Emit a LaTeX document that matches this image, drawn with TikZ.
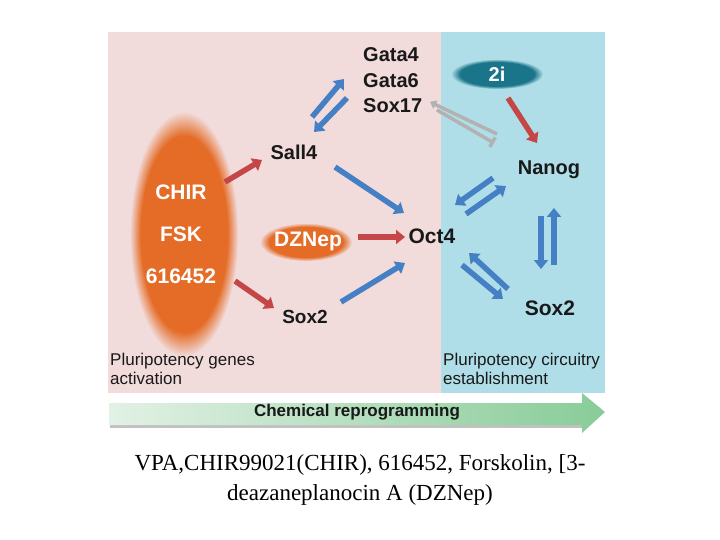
\documentclass[tikz,border=0pt]{standalone}
\usepackage{fontspec}
\setmainfont{Liberation Serif}
\newfontfamily\lsans{Liberation Sans}
\usetikzlibrary{arrows.meta,fadings,shapes.geometric}
\definecolor{pinkbg}{RGB}{242,219,219}
\definecolor{bluebg}{RGB}{176,222,232}
\definecolor{arrblue}{RGB}{70,128,196}
\definecolor{arrred}{RGB}{196,70,70}
\definecolor{arrgray}{RGB}{178,178,178}
\definecolor{blob}{RGB}{228,108,38}
\definecolor{teal2i}{RGB}{26,116,138}
\definecolor{greenL}{RGB}{226,241,229}
\definecolor{greenR}{RGB}{136,204,152}
\definecolor{txt}{RGB}{25,25,25}
\tikzset{
  gene/.style={font=\lsans\bfseries\fontsize{20}{22}\selectfont, text=txt, inner sep=0pt},
  drug/.style={font=\lsans\bfseries\fontsize{21}{23}\selectfont, text=white, inner sep=0pt},
  note/.style={font=\lsans\fontsize{17}{19}\selectfont, text=txt, inner sep=0pt, anchor=north west, align=left},
  ar/.style={line width=5.5pt, -{Triangle[length=9pt,width=14pt]}},
  blue arr/.style={ar, draw=arrblue},
  red arr/.style={ar, draw=arrred},
  gray arr/.style={line width=3.5pt, draw=arrgray},
}
\begin{document}
\begin{tikzpicture}[x=1pt,y=-1pt]
\useasboundingbox (0,0) rectangle (720,540);
\fill[white] (0,0) rectangle (720,540);
% panels
\fill[pinkbg] (108,32) rectangle (441,393);
\fill[bluebg] (441,32) rectangle (605,393);
% blobs
\fill[blob, path fading=circle with fuzzy edge 20 percent] (184,234) ellipse (54 and 122);
\fill[blob, path fading=circle with fuzzy edge 20 percent] (306,242) ellipse (46 and 19);
\fill[teal2i, path fading=circle with fuzzy edge 20 percent] (497,74) ellipse (46 and 15);
% nodes
\node[drug] (chir) at (181,192) {CHIR};
\node[drug] (fsk) at (181,234) {FSK};
\node[drug] (cpd) at (181,276) {616452};
\node[drug] (dznep) at (308,241) {DZNep};
\node[drug, font=\lsans\bfseries\fontsize{20}{22}\selectfont] (twoi) at (497,74) {2i};
\node[gene] (sall4) at (294,152) {Sall4};
\node[gene, font=\lsans\bfseries\fontsize{19}{21}\selectfont] (sox2a) at (305,317) {Sox2};
\node[gene, anchor=west] (gata4) at (363,55) {Gata4};
\node[gene, anchor=west] (gata6) at (363,81) {Gata6};
\node[gene, anchor=west] (sox17) at (363,106) {Sox17};
\node[gene] (nanog) at (549,170) {Nanog};
\node[gene, font=\lsans\bfseries\fontsize{21}{23}\selectfont] (oct4) at (432,236) {Oct4};
\node[gene, font=\lsans\bfseries\fontsize{21}{23}\selectfont] (sox2b) at (550,308) {Sox2};
\node[note] (lnote) at (110,353) {Pluripotency genes\\activation};
\node[note] (rnote) at (443,353) {Pluripotency circuitry\\establishment};
% arrow endpoints
\coordinate (r1a) at (225,182); \coordinate (r1b) at (262,160);
\coordinate (r2a) at (235,281); \coordinate (r2b) at (274,308);
\coordinate (r3a) at (358,237); \coordinate (r3b) at (405,237);
\coordinate (r4a) at (508,98);  \coordinate (r4b) at (537,143);
\coordinate (b1a) at (335,167); \coordinate (b1b) at (404,213);
\coordinate (b2a) at (341,302); \coordinate (b2b) at (405,263);
\coordinate (b3a) at (312,117); \coordinate (b3b) at (344,79);
\coordinate (b4a) at (347,98);  \coordinate (b4b) at (314,132);
\coordinate (b5a) at (493,178); \coordinate (b5b) at (455,205);
\coordinate (b6a) at (466,214); \coordinate (b6b) at (506,186);
\coordinate (b7a) at (541,216); \coordinate (b7b) at (541,269);
\coordinate (b8a) at (554,265); \coordinate (b8b) at (554,208);
\coordinate (b9a) at (508,289); \coordinate (b9b) at (469,253);
\coordinate (b10a) at (462,265); \coordinate (b10b) at (503,299);
\coordinate (g1a) at (497,134); \coordinate (g1b) at (430,102);
\coordinate (g2a) at (437,110); \coordinate (g2b) at (494,143);
% red arrows
\draw[red arr] (r1a) -- (r1b);
\draw[red arr] (r2a) -- (r2b);
\draw[red arr] (r3a) -- (r3b);
\draw[red arr] (r4a) -- (r4b);
% blue arrows
\draw[blue arr] (b1a) -- (b1b);
\draw[blue arr] (b2a) -- (b2b);
\draw[blue arr] (b3a) -- (b3b);
\draw[blue arr] (b4a) -- (b4b);
\draw[blue arr] (b5a) -- (b5b);
\draw[blue arr] (b6a) -- (b6b);
\draw[blue arr] (b7a) -- (b7b);
\draw[blue arr] (b8a) -- (b8b);
\draw[blue arr] (b9a) -- (b9b);
\draw[blue arr] (b10a) -- (b10b);
% gray
\draw[gray arr, -{Triangle[length=6pt,width=9pt]}] (g1a) -- (g1b);
\draw[gray arr, -{Bar[width=11pt]}] (g2a) -- (g2b);
% green process arrow
\fill[black!40, opacity=0.6] (110,424) rectangle (584,428);
\shade[left color=greenL, right color=greenR]
  (109,403) -- (582,403) -- (582,393) -- (605,412) -- (582,433) -- (582,425) -- (109,425) -- cycle;
\node[font=\lsans\bfseries\fontsize{17}{19}\selectfont, text=txt, inner sep=0pt] (chem) at (357,412) {Chemical reprogramming};
% caption
\node[font=\fontsize{23}{30}\selectfont, align=center, inner sep=0pt, anchor=base] (cap1) at (360,470) {VPA,CHIR99021(CHIR), 616452, Forskolin, [3-};
\node[font=\fontsize{23}{30}\selectfont, align=center, inner sep=0pt, anchor=base] (cap2) at (360,500) {deazaneplanocin A (DZNep)};
\end{tikzpicture}
\end{document}
